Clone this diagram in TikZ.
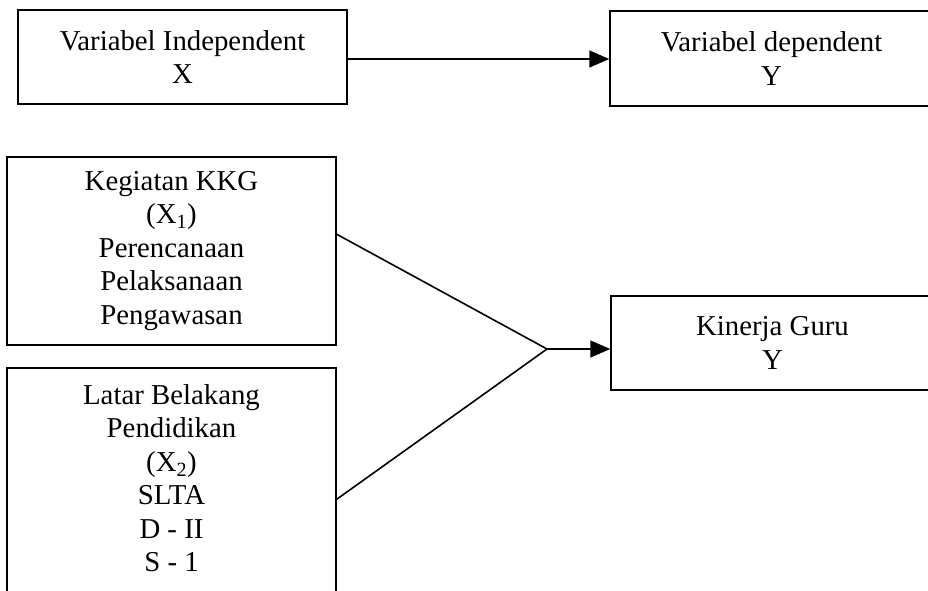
\documentclass[tikz,border=0pt]{standalone}
\usepackage{fontspec}
\setmainfont{Liberation Serif}
\usetikzlibrary{arrows.meta}
\begin{document}
\begin{tikzpicture}[x=1pt,y=-1pt,
  box/.style={draw, line width=1.5pt, rectangle, align=center, inner sep=0pt,
    font=\fontsize{28.8}{33.5}\selectfont},
  link/.style={line width=1.6pt},
  arr/.style={link, -{Triangle[length=20pt,width=17pt]}}]
\useasboundingbox (0,0) rectangle (928,591);
\node[box, minimum width=329pt, minimum height=94pt] (b1) at (182.5,57) {Variabel Independent\\X};
\node[box, minimum width=323pt, minimum height=95pt] (b2) at (771.5,58.5) {Variabel dependent\\Y};
\node[box, minimum width=329pt, minimum height=188pt] (b3) at (171.5,251)
  {Kegiatan KKG\\(X\textsubscript{1})\\Perencanaan\\Pelaksanaan\\Pengawasan};
\node[box, minimum width=329pt, minimum height=242pt, text depth=21.7pt] (b4) at (171.5,489)
  {Latar Belakang\\Pendidikan\\(X\textsubscript{2})\\SLTA\\D - II\\S - 1};
\node[box, minimum width=323pt, minimum height=94pt] (b5) at (772.5,343) {Kinerja Guru\\Y};
\draw[arr] ([yshift=-2pt]b1.east) -- ([yshift=-2pt]b1.east -| b2.west);
\coordinate (apex) at (547,349);
\draw[link] ([yshift=-78pt]b3.north east) -- (apex) -- ([yshift=-132pt]b4.north east);
\draw[arr] (apex) -- (apex -| b5.west);
\end{tikzpicture}
\end{document}
